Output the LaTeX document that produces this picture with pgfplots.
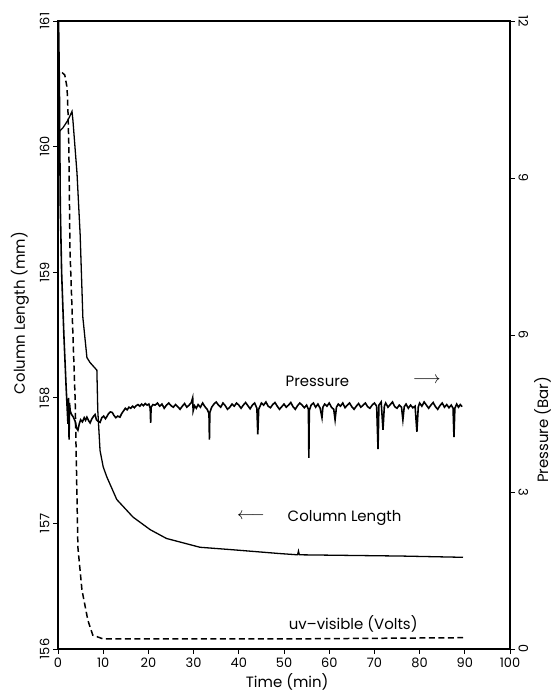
\documentclass[border=0pt]{standalone}
\usepackage{pgfplots}
\pgfplotsset{compat=1.18}
\usepackage{fontspec}
\setmainfont{Poppins}
\usetikzlibrary{calc}

\begin{document}
\begin{tikzpicture}
\pgfplotsset{
  common/.style={
    scale only axis, width=452bp, height=628bp,
    xmin=0, xmax=100,
    tick align=outside, major tick length=5bp,
    every tick/.style={line width=0.8pt, black},
    /pgf/number format/assume math mode=true,
    ticklabel style={font=\fontsize{13}{13}\selectfont},
    label style={font=\fontsize{15}{15}\selectfont},
    axis line style={line width=2pt},
  },
}
% Column length (left axis) and uv-visible trace
\begin{axis}[common, name=ax,
  ymin=156, ymax=161, ytick={156,157,...,161},
  xtick={0,10,...,100}, xtick pos=left, ytick pos=left,
  yticklabel style={rotate=90, anchor=south},
  xlabel={Time (min)}, ylabel={Column Length (mm)},
  xlabel style={at={(axis description cs:0.507,-0.053)}, anchor=center},
  ylabel style={at={(axis description cs:-0.084,0.535)}, anchor=center},
  clip=false,
]
\draw[line width=2.6pt, line join=miter] (rel axis cs:0,0) rectangle (rel axis cs:1,1);
\begin{scope}
\clip (rel axis cs:0,0) rectangle (rel axis cs:1,1);
\addplot[black, line width=1.3pt] coordinates {
(0,160.11) (1.1,160.15) (2.2,160.21) (3.1,160.28) (3.3,160.21) (4.2,159.79)
(4.9,159.3) (5.5,158.64) (6.4,158.32) (7.1,158.28) (8.6,158.22) (8.8,157.9)
(9.3,157.58) (10,157.45) (10.8,157.37) (13,157.19) (16.6,157.05) (20.4,156.95)
(24,156.88) (31.4,156.81) (38.7,156.79) (49,156.76) (53,156.75) (53.2,156.78)
(53.4,156.75) (76,156.74) (89.6,156.73)
};
\addplot[black, line width=1.5pt, dash pattern=on 6bp off 3.5bp] coordinates {
(0.9,160.59) (1.5,160.57) (2.0,160.47) (2.2,160.29) (2.4,160.0) (2.65,159.18)
(3.8,157.98) (4.2,157.21) (4.4,156.81) (5.3,156.47) (6.6,156.23) (7.7,156.11)
(10,156.08) (50,156.08) (89.6,156.09)
};
\end{scope}
\node[font=\fontsize{15}{15}\selectfont] at (axis cs:57.4,158.13) {Pressure};
\node[font=\fontsize{16}{16}\selectfont] at (axis cs:81.6,158.14) {$\longrightarrow$};
\node[font=\fontsize{16}{16}\selectfont] at (axis cs:42.7,157.06) {$\longleftarrow$};
\node[font=\fontsize{15}{15}\selectfont] at (axis cs:63.4,157.04) {Column Length};
\node[font=\fontsize{15}{15}\selectfont] at (axis cs:65.3,156.2) {uv--visible (Volts)};
\end{axis}
% Pressure (right axis)
\begin{axis}[common,
  axis x line=none, axis y line*=right,
  ymin=0, ymax=12, ytick={0,3,...,12},
  yticklabel style={rotate=-90, anchor=south},
  ylabel={Pressure (Bar)},
  ylabel style={at={(axis description cs:1.072,0.349)}, anchor=center},
]
\addplot[black, line width=1.6pt] coordinates {
(0,0) (0.05,12.5) (0.3,10.8) (0.5,8.5) (0.8,7.2) (1.3,6.0) (1.8,5.0) (2.2,4.3)
(2.35,4.8) (2.45,4.0) (2.55,4.7) (2.7,4.55) (3.0,4.48) (3.4,4.43) (3.8,4.35)
(4.1,4.22) (4.4,4.18) (4.7,4.3) (5.0,4.38) (5.4,4.34) (5.8,4.42) (6.1,4.37)
(6.4,4.43) (6.8,4.36) (7.1,4.32) (7.5,4.4) (7.9,4.45) (8.2,4.48) (8.5,4.38)
(8.9,4.35) (9.3,4.33) (9.7,4.42) (10.1,4.45) (10.5,4.4) (10.8,4.44) (11.2,4.5)
(11.6,4.53) (12.0,4.52) (12.4,4.46) (12.8,4.42) (13.2,4.45) (13.7,4.43)
(14.1,4.5) (14.5,4.55) (14.9,4.6) (15.3,4.57) (15.7,4.62) (16.1,4.6) (16.5,4.64)
(16.9,4.61) (17.3,4.65) (17.7,4.67) (18.1,4.64) (18.5,4.68) (18.9,4.65)
(19.3,4.69) (19.7,4.66) (20.1,4.68) (20.4,4.6) (20.5,4.32) (20.6,4.62) (21.0,4.67)
(21.5,4.66) (22.0,4.70) (22.5,4.64) (23.0,4.68) (23.5,4.60) (24.0,4.66)
(24.5,4.70) (25.0,4.65) (25.5,4.62) (26.0,4.67) (26.5,4.63) (27.0,4.58)
(27.5,4.64) (28.0,4.69) (28.5,4.62) (29.0,4.66) (29.5,4.71) (29.8,4.80)
(29.9,4.55) (30.2,4.65) (30.6,4.60) (31.0,4.67) (31.5,4.62) (32.0,4.70)
(32.5,4.63) (33.0,4.58) (33.4,4.50) (33.5,4.00) (33.6,4.52) (34.0,4.62)
(34.5,4.68) (35.0,4.72) (35.5,4.66) (36.0,4.62) (36.5,4.70) (37.0,4.65)
(37.5,4.58) (38.0,4.62) (38.5,4.68) (39.0,4.64) (39.5,4.70) (40.0,4.66)
(40.5,4.60) (41.0,4.66) (41.5,4.71) (42.0,4.65) (42.5,4.59) (43.0,4.66)
(43.5,4.70) (44.0,4.60) (44.2,4.10) (44.4,4.58) (45.0,4.70) (45.5,4.66)
(46.0,4.72) (46.5,4.64) (47.0,4.61) (47.5,4.67) (48.0,4.71) (48.5,4.64)
(49.0,4.58) (49.5,4.63) (50.0,4.68) (50.5,4.62) (51.0,4.66) (51.5,4.71)
(52.0,4.63) (52.5,4.58) (53.0,4.65) (53.5,4.70) (54.0,4.66) (54.5,4.61)
(55.0,4.66) (55.4,4.58) (55.5,3.65) (55.6,4.56) (56.0,4.66) (56.5,4.70)
(57.0,4.62) (57.5,4.68) (58.0,4.60) (58.4,4.42) (58.6,4.62) (59.0,4.68)
(59.5,4.64) (60.0,4.70) (60.5,4.62) (61.0,4.58) (61.3,4.38) (61.6,4.62)
(62.0,4.68) (62.5,4.64) (63.0,4.70) (63.5,4.61) (64.0,4.66) (64.5,4.70)
(65.0,4.63) (65.5,4.58) (66.0,4.64) (66.5,4.69) (67.0,4.62) (67.5,4.66)
(68.0,4.70) (68.5,4.63) (69.0,4.60) (69.5,4.66) (70.0,4.70) (70.5,4.64)
(70.8,3.82) (71.0,4.66) (71.5,4.72) (71.9,4.19) (72.2,4.64) (72.5,4.70)
(73.0,4.62) (73.5,4.67) (74.0,4.72) (74.5,4.63) (75.0,4.60) (75.5,4.66)
(76.0,4.62) (76.3,4.38) (76.6,4.63) (77.0,4.68) (77.5,4.60) (78.0,4.66)
(78.5,4.61) (79.0,4.64) (79.4,4.15) (79.7,4.62) (80.0,4.70) (80.5,4.64)
(81.0,4.72) (81.5,4.66) (82.0,4.60) (82.5,4.66) (83.0,4.71) (83.5,4.63)
(84.0,4.58) (84.5,4.65) (85.0,4.70) (85.5,4.62) (86.0,4.67) (86.5,4.61)
(87.0,4.66) (87.4,4.60) (87.6,4.05) (87.8,4.60) (88.2,4.68) (88.6,4.62)
(89.0,4.67) (89.4,4.63)
};
\end{axis}
\pgfresetboundingbox
\path[use as bounding box] ($(ax.south west)+(-58bp,-43bp)$) rectangle ($(ax.north east)+(44bp,21bp)$);
\end{tikzpicture}
\end{document}
